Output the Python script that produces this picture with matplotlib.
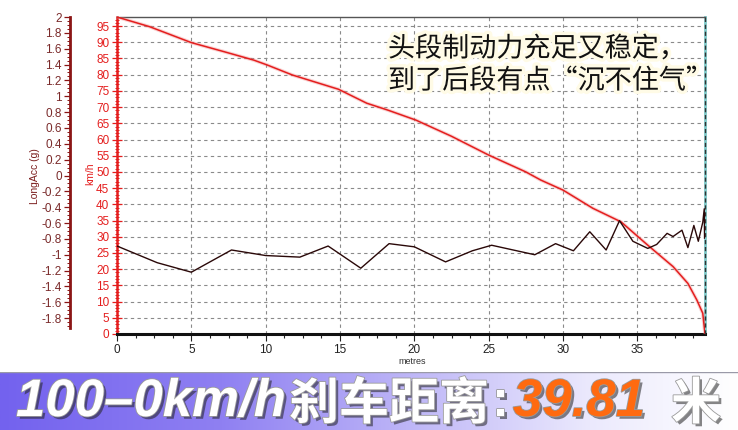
import numpy as np
import matplotlib
matplotlib.use("Agg")
import matplotlib.pyplot as plt
from matplotlib.ticker import MultipleLocator, FixedLocator
import matplotlib.patheffects as pe
from matplotlib.colors import LinearSegmentedColormap

plt.rcParams['font.family'] = ['Liberation Sans', 'DejaVu Sans']

# ---------------- data ----------------
dist_speed = [0, 2.2, 5.0, 7.2, 9.2, 10.1, 11.8, 14.9, 16.8, 18.2, 20.1, 22.5, 25.0,
              27.5, 28.5, 30.0, 32.0, 33.9, 35.7, 37.4, 38.4, 39.0, 39.4, 39.55]
speed_kmh = [97.8, 94.8, 89.9, 87.1, 84.5, 83.0, 79.9, 75.5, 71.2, 69.1, 66.0, 61.0, 55.2,
             50.0, 47.5, 44.4, 38.8, 34.6, 27.4, 20.8, 15.6, 10.5, 6.4, 0.0]

dist_acc = [0, 2.7, 5.0, 7.7, 10.0, 12.3, 14.2, 16.4, 18.3, 20.0, 22.1, 23.9, 25.2, 28.1,
            29.5, 30.7, 31.8, 32.9, 33.8, 34.7, 35.7, 36.3, 37.0, 37.4, 38.0, 38.4, 38.8,
            39.1, 39.4, 39.5, 39.52]
acc_g = [-0.89, -1.10, -1.22, -0.94, -1.01, -1.03, -0.89, -1.17, -0.86, -0.90, -1.09,
         -0.95, -0.88, -1.00, -0.86, -0.95, -0.71, -0.94, -0.57, -0.83, -0.92, -0.87,
         -0.73, -0.77, -0.69, -0.91, -0.63, -0.83, -0.59, -0.42, -0.79]

x_ticks = [0, 5, 10, 15, 20, 25, 30, 35]
speed_ticks = list(range(0, 100, 5))
g_ticks = [2, 1.8, 1.6, 1.4, 1.2, 1, 0.8, 0.6, 0.4, 0.2, 0, -0.2, -0.4, -0.6, -0.8,
           -1, -1.2, -1.4, -1.6, -1.8]
g_labels = ['2', '1.8', '1.6', '1.4', '1.2', '1', '0.8', '0.6', '0.4', '0.2', '0',
            '-0.2', '-0.4', '-0.6', '-0.8', '-1', '-1.2', '-1.4', '-1.6', '-1.8']

note_lines = ['头段制动力充足又稳定，', '到了后段有点“沉不住气”']
banner_a = '100–0km/h'
banner_b = '刹车距离'
banner_colon = ':'
banner_c = '39.81'
banner_d = '米'

# ---------------- figure ----------------
W, H = 738, 430
fig = plt.figure(figsize=(W / 100, H / 100), dpi=100)
fig.patch.set_facecolor('white')

L, R, T, B = 117, 705, 17, 334
ax = fig.add_axes([L / W, 1 - B / H, (R - L) / W, (B - T) / H])
ax.set_xlim(0, 39.55)
ax.set_ylim(0, 97.8)

red = '#e41e1e'
dred = '#8b1515'

# grid
ax.grid(True, which='major', color='#8a8a8a', linestyle=(0, (3, 3)), lw=0.8)
ax.set_axisbelow(True)

# speed line
ax.plot(dist_speed, speed_kmh, color='#f08080', lw=2.6, alpha=0.35, zorder=3)
ax.plot(dist_speed, speed_kmh, color=red, lw=1.1, zorder=4)

# x axis
ax.xaxis.set_major_locator(FixedLocator(x_ticks))
ax.xaxis.set_minor_locator(MultipleLocator(1.25))
ax.tick_params(axis='x', which='major', direction='out', length=5, width=0.8,
               color='#222222', labelsize=8.5, labelcolor='#222222', pad=2)
ax.tick_params(axis='x', which='minor', direction='out', length=3, width=0.8, color='#222222')

# speed axis
ax.yaxis.set_major_locator(FixedLocator(speed_ticks))
ax.yaxis.set_minor_locator(MultipleLocator(1))
ax.tick_params(axis='y', which='major', direction='inout', length=7, width=0.9,
               color=red, labelsize=8.5, labelcolor=red, pad=2)
ax.tick_params(axis='y', which='minor', direction='inout', length=3, width=0.7, color=red)

ax.spines['left'].set_color(red)
ax.spines['left'].set_linewidth(1.8)
ax.spines['bottom'].set_color('#111111')
ax.spines['bottom'].set_linewidth(2.2)
ax.spines['top'].set_color('#555555')
ax.spines['top'].set_linewidth(1.0)
ax.spines['right'].set_color('#7fc9c9')
ax.spines['right'].set_linewidth(2.0)
ax.axvline(39.55, color='#333333', lw=1.0, linestyle=(0, (3, 2)), zorder=5, clip_on=False)

# acceleration axis
ax2 = ax.twinx()
ax2.set_ylim(-2, 2)
ax2.plot(dist_acc, acc_g, color='#2a0808', lw=1.0, zorder=5)
for s in ['right', 'top', 'bottom']:
    ax2.spines[s].set_visible(False)
ax2.spines['left'].set_visible(True)
ax2.spines['left'].set_position(('axes', -(L - 70) / (R - L)))
ax2.spines['left'].set_color(dred)
ax2.spines['left'].set_linewidth(2.0)
ax2.spines['left'].set_bounds(-1.93, 2)
ax2.yaxis.set_ticks_position('left')
ax2.yaxis.set_major_locator(FixedLocator(g_ticks))
ax2.set_yticklabels(g_labels)
ax2.yaxis.set_minor_locator(FixedLocator(np.arange(-1.9, 2.0, 0.05)))
ax2.tick_params(axis='y', which='major', direction='out', length=4, width=0.9,
                color=dred, labelsize=8.5, labelcolor='#7a2a2a', pad=2)
ax2.tick_params(axis='y', which='minor', direction='out', length=2, width=0.7, color=dred)

# axis titles
fig.text(35 / W, 1 - 176 / H, 'LongAcc (g)', rotation=90, color='#7a1c1c',
         fontsize=7.5, ha='center', va='center')
fig.text(90 / W, 1 - 174 / H, 'km/h', rotation=90, color=red,
         fontsize=7.5, ha='center', va='center')
fig.text(412 / W, 1 - 362 / H, 'metres', color='#333333', fontsize=6.5,
         ha='center', va='center')

# annotation
cjk = ['Noto Sans CJK SC', 'DejaVu Sans']
glow = [pe.Stroke(linewidth=5, foreground='#fffbe6'), pe.Normal()]
fig.text(388 / W, 1 - 49 / H, note_lines[0], family=cjk, fontsize=19.5,
         color='#111111', ha='left', va='center', path_effects=glow)
fig.text(388 / W, 1 - 81 / H, note_lines[1], family=cjk, fontsize=19.5,
         color='#111111', ha='left', va='center', path_effects=glow)

# banner
bh = 58
bax = fig.add_axes([0, 0, 1, bh / H])
cmap = LinearSegmentedColormap.from_list(
    'ban', [(0, '#7362ee'), (0.3, '#8f80f2'), (0.55, '#bdb5f7'),
            (0.8, '#ebe9fd'), (1, '#ffffff')])
grad = np.linspace(0, 1, 256)[None, :]
bax.imshow(grad, aspect='auto', cmap=cmap, extent=[0, 1, 0, 1])
bax.axhline(1, color='#9a9aa8', lw=1.0)
bax.set_xlim(0, 1)
bax.set_ylim(0, 1)
bax.set_axis_off()

shadow = [pe.SimplePatchShadow(offset=(2, -2), shadow_rgbFace='#222222', alpha=0.55),
          pe.Stroke(linewidth=1.2, foreground='#9a9a9a'), pe.Normal()]
base_y = 1 - 416 / H
fig.text(16 / W, base_y, banner_a, fontsize=38, fontweight='bold', style='italic',
         color='white', ha='left', va='baseline', path_effects=shadow)
fig.text(289 / W, base_y - 3 / H, banner_b, family=cjk, fontsize=36, fontweight='bold',
         color='white', ha='left', va='baseline', path_effects=shadow)
fig.text(492 / W, base_y, banner_colon, fontsize=37, fontweight='bold',
         color='white', ha='left', va='baseline', path_effects=shadow)
fig.text(513 / W, base_y, banner_c, fontsize=38,
         fontweight='bold', style='italic', color='#ff6a10', ha='left', va='baseline',
         path_effects=shadow)
fig.text(671 / W, base_y - 3 / H, banner_d, family=cjk, fontsize=36, fontweight='bold',
         color='white', ha='left', va='baseline', path_effects=shadow)

fig.savefig('out.png', dpi=100)
